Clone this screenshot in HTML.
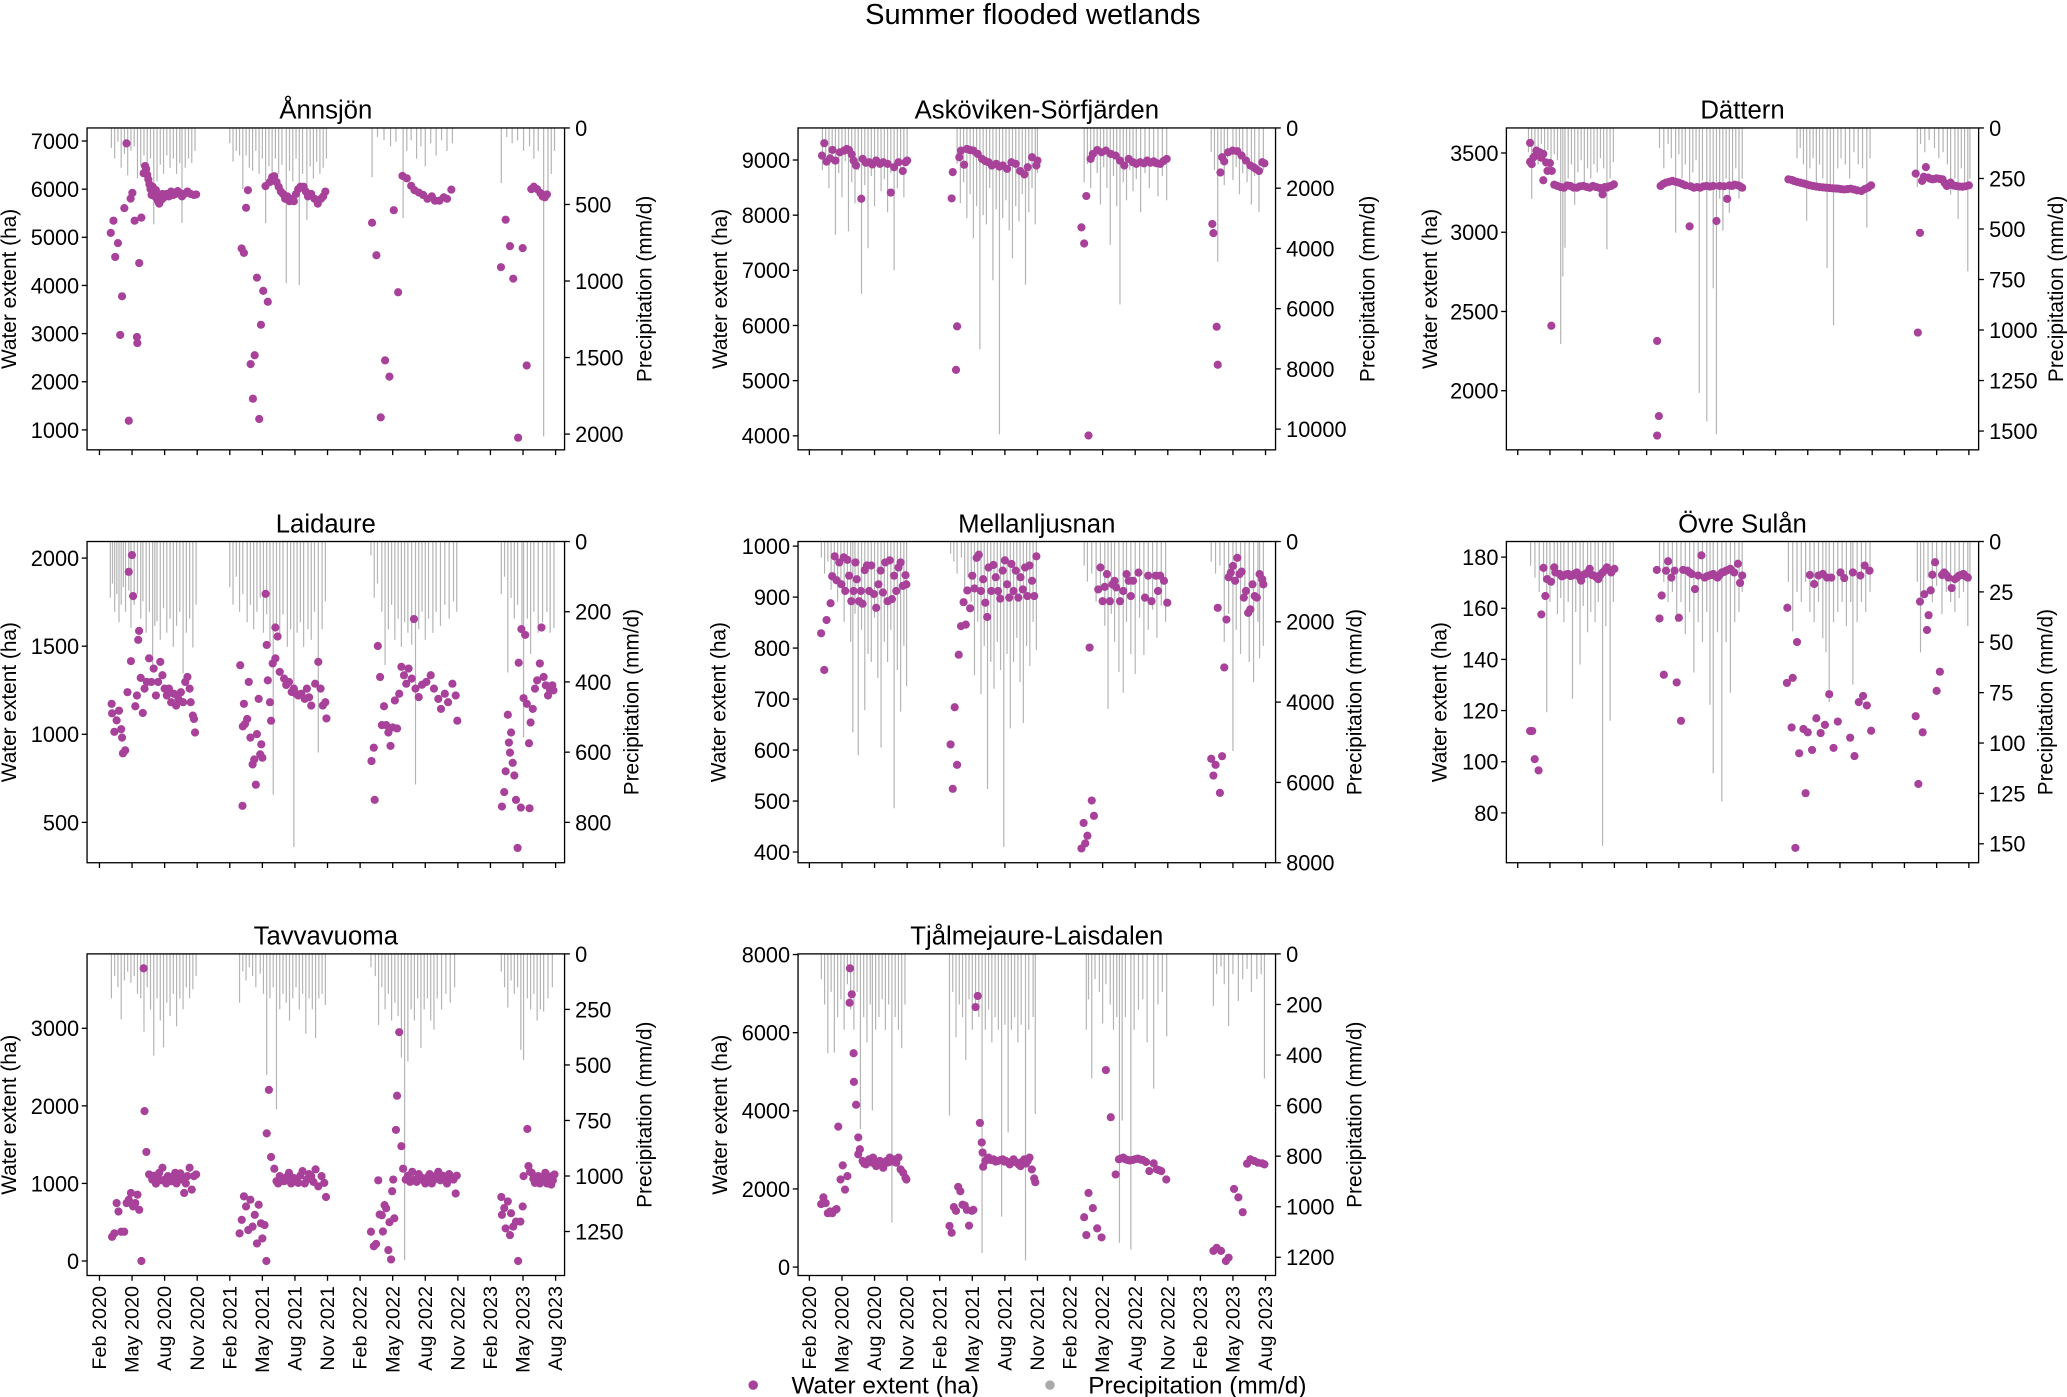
<!DOCTYPE html>
<html><head><meta charset="utf-8"><title>Summer flooded wetlands</title>
<style>
html,body{margin:0;padding:0;background:#fff;}
svg{display:block;font-family:"Liberation Sans","DejaVu Sans",sans-serif;}
</style></head>
<body>
<svg id="fig" width="2067" height="1397" viewBox="0 0 1567 1059" preserveAspectRatio="none" xmlns="http://www.w3.org/2000/svg">
<rect width="1567" height="1059" fill="#fff"/>
<text x="783" y="18" font-size="22" text-anchor="middle" fill="#000">Summer flooded wetlands</text>
<g id="panels"></g>
<g>
<circle cx="571" cy="1050" r="3.6" fill="#a8419a"/>
<text x="600" y="1056.5" font-size="18.5">Water extent (ha)</text>
<circle cx="796" cy="1050" r="3.6" fill="#aaaaaa"/>
<text x="825" y="1056.5" font-size="18.5">Precipitation (mm/d)</text>
</g>
</svg>
<script>
// ---- x-axis ticks (month index: 0 = Jan 2020) ----
const tickMonths = [1,4,7,10,13,16,19,22,25,28,31,34,37,40,43];
const tickLabels = ["Feb 2020","May 2020","Aug 2020","Nov 2020","Feb 2021","May 2021","Aug 2021","Nov 2021","Feb 2022","May 2022","Aug 2022","Nov 2022","Feb 2023","May 2023","Aug 2023"];

const panelNames = ["Ånnsjön","Asköviken-Sörfjärden","Dättern","Laidaure","Mellanljusnan","Övre Sulån","Tavvavuoma","Tjålmejaure-Laisdalen"];

const leftTicks = [[1000,2000,3000,4000,5000,6000,7000],[4000,5000,6000,7000,8000,9000],[2000,2500,3000,3500],[500,1000,1500,2000],[400,500,600,700,800,900,1000],[80,100,120,140,160,180],[0,1000,2000,3000],[0,2000,4000,6000,8000]];
const rightTicks = [[0,500,1000,1500,2000],[0,2000,4000,6000,8000,10000],[0,250,500,750,1000,1250,1500],[0,200,400,600,800],[0,2000,4000,6000,8000],[0,25,50,75,100,125,150],[0,250,500,750,1000,1250],[0,200,400,600,800,1000,1200]];

// ---- water extent series [month, ha] ----
const annsjonExtent = [[2.04,5092],[2.29,5345],[2.45,4592],[2.7,4880],[2.91,2972],[3.08,3775],[3.29,5606],[3.49,6951],[3.7,1190],[3.87,5803],[4.03,5923],[4.24,5345],[4.45,2930],[4.49,2803],[4.66,4465],[4.86,5409],[5.07,6331],[5.2,6480],[5.3,6420],[5.4,6300],[5.5,6200],[5.6,6100],[5.7,6000],[5.8,5880],[5.9,6050],[6.0,5950],[6.1,5850],[6.2,5980],[6.3,5800],[6.4,5750],[6.5,5700],[6.6,5850],[6.7,5780],[6.8,5900],[6.9,5820],[7.0,5870],[7.2,5900],[7.4,5850],[7.6,5950],[7.8,5880],[8.0,5900],[8.2,5960],[8.4,5920],[8.6,5850],[8.8,5900],[9.1,5950],[9.4,5900],[9.7,5880],[9.9,5890],
[14.09,4768],[14.3,4676],[14.5,5613],[14.67,5979],[14.92,2366],[15.13,1648],[15.29,2550],[15.5,4162],[15.71,1226],[15.87,3183],[16.08,3887],[16.29,6063],[16.5,3662],[16.7,6150],[16.9,6250],[17.1,6270],[17.3,6150],[17.5,6050],[17.7,5950],[17.9,5900],[18.1,5800],[18.3,5850],[18.5,5750],[18.7,5800],[18.9,5750],[19.1,5900],[19.3,6000],[19.5,6050],[19.8,6050],[20.0,5950],[20.2,5850],[20.5,5900],[20.8,5800],[21.1,5700],[21.4,5800],[21.6,5850],[21.8,5950],
[26.1,5303],[26.5,4627],[26.9,1261],[27.3,2444],[27.7,2106],[28.1,5563],[28.5,3859],[28.9,6275],[29.3,6225],[29.7,6070],[30.0,5980],[30.4,5930],[30.8,5880],[31.2,5800],[31.6,5850],[31.9,5760],[32.3,5760],[32.7,5830],[33.0,5800],[33.4,5990],
[37.97,4380],[38.4,5366],[38.8,4817],[39.1,4141],[39.55,838],[39.97,4775],[40.34,2338],[40.76,6000],[41.0,6050],[41.3,6000],[41.6,5920],[41.8,5850],[42.0,5830],[42.2,5890]];

const askovikenExtent = [[2.16,9079],[2.37,9305],[2.58,8970],[2.9,9030],[3.12,9183],[3.4,8990],[3.8,9140],[4.2,9170],[4.45,9200],[4.65,9180],[4.9,9100],[5.07,8990],[5.3,8900],[5.78,8298],[5.9,9020],[6.2,8950],[6.5,8960],[6.8,8920],[7.15,8990],[7.5,8930],[7.8,8960],[8.2,8930],[8.5,8410],[8.8,8870],[9.2,8960],[9.6,8800],[9.85,8960],[10.0,8990],
[14.1,8304],[14.2,8780],[14.5,5196],[14.6,5984],[14.8,9050],[14.96,9170],[15.25,8915],[15.5,9200],[15.8,9180],[16.1,9170],[16.5,9110],[16.9,9020],[17.2,8980],[17.5,8960],[17.8,8900],[18.2,8930],[18.5,8880],[18.8,8900],[19.2,8840],[19.6,8960],[20.0,8930],[20.4,8800],[20.8,8740],[21.1,8870],[21.5,9050],[21.9,8900],[22.0,8990],
[26.05,7779],[26.3,7486],[26.5,8347],[26.7,4006],[26.9,9020],[27.1,9110],[27.5,9180],[27.9,9140],[28.3,9170],[28.75,9110],[29.2,9080],[29.6,8990],[30.0,8900],[30.4,9020],[30.8,8960],[31.1,8930],[31.45,8960],[31.8,8940],[32.1,8990],[32.4,8950],[32.7,8975],[33.0,8940],[33.3,8930],[33.6,8980],[33.9,9020],
[38.1,7840],[38.2,7675],[38.5,5978],[38.6,5288],[38.85,8774],[39.0,9050],[39.2,8975],[39.55,9140],[39.97,9170],[40.4,9160],[40.8,9080],[41.2,8990],[41.6,8900],[41.9,8870],[42.1,8840],[42.4,8800],[42.7,8960],[42.9,8940]];

const dattternExtent = [[2.15,3564],[2.15,3445],[2.3,3430],[2.46,3472],[2.6,3480],[2.74,3515],[2.9,3490],[3.06,3504],[3.2,3470],[3.38,3494],[3.38,3328],[3.65,3440],[3.77,3387],[4.0,3436],[4.13,2410],[4.17,3387],[4.4,3300],[4.7,3292],[5.0,3285],[5.3,3281],[5.6,3295],[5.9,3292],[6.2,3282],[6.5,3281],[6.8,3290],[7.1,3292],[7.4,3286],[7.7,3281],[8.0,3292],[8.3,3285],[8.6,3280],[8.9,3239],[9.1,3285],[9.3,3281],[9.5,3290],[9.7,3292],[9.95,3302],
[13.98,2314],[14.14,1840],[13.98,1717],[14.3,3292],[14.55,3305],[14.8,3313],[15.1,3318],[15.4,3324],[15.7,3318],[16.0,3313],[16.3,3305],[16.6,3296],[17.0,3037],[17.1,3290],[17.4,3281],[17.7,3285],[17.98,3281],[18.3,3290],[18.6,3292],[18.9,3288],[19.2,3292],[19.5,3071],[19.8,3292],[20.2,3290],[20.5,3211],[20.7,3295],[20.95,3292],[21.2,3300],[21.5,3296],[21.7,3290],[21.9,3281],
[26.2,3334],[26.5,3330],[26.7,3324],[27.0,3318],[27.3,3313],[27.6,3308],[27.9,3302],[28.2,3296],[28.5,3292],[28.8,3288],[29.1,3285],[29.4,3283],[29.7,3281],[30.0,3279],[30.3,3277],[30.6,3276],[30.85,3275],[31.1,3272],[31.4,3270],[31.7,3272],[32.0,3275],[32.3,3270],[32.6,3264],[33.0,3260],[33.3,3272],[33.6,3281],[33.9,3296],
[38.05,3370],[38.25,2367],[38.45,2996],[38.65,3324],[38.8,3350],[39.0,3411],[39.2,3345],[39.4,3338],[39.6,3334],[39.8,3336],[40.0,3340],[40.3,3336],[40.55,3334],[40.75,3310],[40.95,3292],[41.1,3300],[41.3,3313],[41.55,3295],[41.8,3292],[42.1,3289],[42.4,3287],[42.7,3290],[43.0,3296]];

const laidaureExtent = [[2.12,1173],[2.16,1119],[2.37,1014],[2.58,1079],[2.8,1134],[3.0,1029],[3.08,981],[3.16,892],[3.37,909],[3.58,1239],[3.7,1922],[3.9,1415],[3.99,2017],[4.1,1784],[4.3,1159],[4.45,1220],[4.57,1536],[4.65,1587],[4.8,1320],[4.99,1121],[5.15,1259],[5.36,1297],[5.57,1431],[5.78,1297],[5.99,1373],[6.2,1220],[6.4,1297],[6.6,1411],[6.8,1335],[7.0,1259],[7.2,1220],[7.4,1259],[7.6,1182],[7.85,1230],[8.06,1163],[8.27,1201],[8.5,1239],[8.7,1182],[8.9,1297],[9.1,1325],[9.3,1259],[9.4,1182],[9.6,1106],[9.7,1087],[9.8,1010],
[13.96,1392],[14.17,594],[14.2,1045],[14.3,1173],[14.4,1058],[14.6,1087],[14.75,1297],[14.9,981],[15.1,829],[15.25,857],[15.4,714],[15.5,1001],[15.66,1201],[15.8,886],[15.9,943],[16.0,867],[16.3,1797],[16.4,1507],[16.5,1306],[16.7,1182],[16.8,1077],[16.95,1402],[17.2,1606],[17.2,1431],[17.4,1555],[17.6,1354],[18.0,1316],[18.2,1280],[18.45,1297],[18.7,1240],[18.9,1259],[19.1,1230],[19.3,1220],[19.6,1230],[19.9,1201],[20.1,1259],[20.3,1210],[20.5,1163],[20.86,1287],[21.15,1411],[21.36,1259],[21.56,1163],[21.8,1182],[21.9,1090],
[26.05,848],[26.26,924],[26.34,628],[26.63,1501],[26.84,1325],[27.0,1052],[27.2,1159],[27.4,1052],[27.6,1010],[27.8,934],[28.0,1039],[28.2,1192],[28.4,1033],[28.6,1230],[28.8,1383],[29.04,1335],[29.25,1287],[29.46,1373],[29.75,1316],[29.96,1654],[30.1,1259],[30.4,1211],[30.7,1281],[31.1,1297],[31.5,1335],[31.8,1259],[32.2,1201],[32.45,1144],[32.8,1230],[33.1,1182],[33.5,1287],[33.8,1220],[33.95,1077],
[38.06,590],[38.27,672],[38.4,790],[38.6,1111],[38.7,953],[38.8,896],[38.9,1010],[39.05,838],[39.2,766],[39.35,628],[39.5,355],[39.6,1406],[39.8,584],[39.85,1597],[40.05,1205],[40.2,1564],[40.35,1173],[40.55,949],[40.6,580],[40.7,1067],[40.9,1144],[41.1,1259],[41.3,1306],[41.55,1402],[41.7,1606],[41.9,1325],[42.1,1278],[42.3,1220],[42.5,1249],[42.7,1278],[42.8,1249]];

const mellanExtent = [[2.08,829],[2.37,757],[2.58,855],[2.95,888],[3.1,941],[3.33,980],[3.5,933],[3.75,968],[3.95,925],[4.16,978],[4.3,912],[4.5,973],[4.66,942],[4.86,892],[5.07,912],[5.24,968],[5.36,935],[5.57,892],[5.74,912],[5.9,887],[6.1,953],[6.3,962],[6.5,912],[6.7,962],[6.94,906],[7.15,879],[7.36,925],[7.56,952],[7.77,909],[7.98,968],[8.2,892],[8.4,972],[8.6,896],[8.8,942],[9.0,912],[9.2,958],[9.4,968],[9.6,922],[9.85,943],[9.93,925],
[14.0,611],[14.2,524],[14.38,684],[14.6,571],[14.75,787],[14.96,843],[15.2,890],[15.4,846],[15.54,913],[15.8,878],[16.0,942],[16.2,917],[16.4,977],[16.6,983],[16.8,912],[17.0,935],[17.2,889],[17.37,861],[17.5,958],[17.75,912],[17.95,963],[18.16,939],[18.37,912],[18.57,897],[18.8,952],[19.0,972],[19.2,925],[19.4,899],[19.6,965],[19.8,912],[20.0,952],[20.24,899],[20.44,939],[20.65,915],[20.86,958],[21.07,902],[21.27,962],[21.5,932],[21.7,902],[21.9,980],
[26.05,407],[26.25,457],[26.4,417],[26.6,432],[26.8,801],[27.0,501],[27.2,471],[27.6,915],[27.8,958],[28.0,892],[28.2,920],[28.4,945],[28.67,892],[28.9,925],[29.1,932],[29.25,919],[29.6,892],[29.9,912],[30.2,945],[30.4,932],[30.6,902],[30.8,932],[31.3,948],[31.9,899],[32.2,942],[32.5,892],[32.9,942],[33.1,912],[33.3,942],[33.65,932],[33.95,889],
[38.0,583],[38.2,550],[38.4,571],[38.6,879],[38.8,516],[39.0,588],[39.2,762],[39.4,856],[39.6,939],[39.8,948],[40.0,961],[40.2,932],[40.4,977],[40.6,945],[40.8,950],[41.0,899],[41.2,912],[41.4,869],[41.6,876],[41.8,925],[42.0,902],[42.2,899],[42.45,945],[42.7,935],[42.8,925]];

const ovreExtent = [[2.15,112],[2.35,112],[2.58,101],[2.94,96.6],[3.2,157.6],[3.4,175.8],[3.57,164.8],[3.73,171.4],[4.1,170.4],[4.4,176],[4.5,174],[4.9,173.4],[5.1,172.5],[5.3,172.8],[5.5,173.2],[5.7,173.4],[5.9,172.6],[6.1,172.8],[6.3,173.5],[6.5,174],[6.7,172.5],[6.9,170.8],[7.1,173],[7.3,173.4],[7.5,174],[7.7,175.4],[7.9,173],[8.1,172.8],[8.3,172.2],[8.5,171.4],[8.7,173],[8.9,174],[9.1,174.8],[9.3,176],[9.5,175],[9.7,174],[10.0,175.4],
[13.95,175],[14.2,156],[14.4,165],[14.6,134],[14.8,174.7],[15.0,178.4],[15.3,172],[15.6,174.7],[15.8,131],[16.0,156.3],[16.2,116],[16.4,175],[16.8,174.7],[17.0,174],[17.2,173.4],[17.5,167.5],[17.8,172.8],[18.1,180.7],[18.4,172],[18.6,172.5],[18.8,172.8],[19.0,173],[19.2,173.4],[19.4,172.6],[19.6,172],[19.8,173],[20.0,174],[20.2,174.2],[20.4,174.7],[20.6,175],[20.8,175.4],[21.15,174],[21.5,177.4],[21.7,169.9],[21.9,172.8],
[26.06,130.8],[26.1,160.2],[26.5,113.4],[26.6,132.8],[26.85,66.3],[27.0,146.8],[27.2,103.3],[27.6,112.8],[27.8,87.7],[28.0,111.5],[28.2,173],[28.4,104.6],[28.6,169.5],[28.8,117],[29.0,172.8],[29.2,111.2],[29.4,173.4],[29.6,114.4],[29.8,172],[30.0,126.4],[30.2,172],[30.4,105.4],[30.8,115.7],[31.05,174],[31.4,171.8],[31.95,109.4],[32.2,174],[32.35,102.2],[32.75,123.3],[32.9,172.8],[33.15,125.7],[33.3,176.7],[33.5,122],[33.75,174.7],[33.9,112.1],
[38.05,117.8],[38.3,91.3],[38.45,162.6],[38.7,111.5],[38.85,165.5],[39.1,151.5],[39.25,157.3],[39.45,167],[39.6,173.1],[39.85,178],[40.0,127.7],[40.3,135.2],[40.5,173],[40.7,174],[40.9,173],[41.1,172],[41.4,167.9],[41.7,171.4],[41.9,172],[42.1,172.8],[42.3,173],[42.5,173.4],[42.7,172.5],[42.9,172]];

const tavvaExtent = [[2.16,312],[2.37,356],[2.58,747],[2.75,638],[3.0,377],[3.28,377],[3.5,747],[3.7,790],[3.9,877],[4.1,703],[4.3,747],[4.5,855],[4.66,660],[4.86,0],[5.07,3773],[5.15,1932],[5.32,1406],[5.57,1116],[5.86,1050],[6.0,1100],[6.2,998],[6.35,1080],[6.5,1137],[6.65,1040],[6.8,1202],[7.0,1050],[7.15,1000],[7.3,1094],[7.5,1060],[7.65,1029],[7.8,1090],[7.98,1137],[8.1,1000],[8.27,1094],[8.45,1130],[8.6,1050],[8.8,877],[8.95,1000],[9.1,1094],[9.3,1202],[9.5,920],[9.7,1094],[9.9,1116],
[13.9,356],[14.1,530],[14.3,833],[14.5,703],[14.7,399],[14.9,790],[15.1,443],[15.3,595],[15.5,226],[15.66,725],[15.87,486],[16.0,291],[16.2,464],[16.37,0],[16.4,1645],[16.6,2206],[16.8,1341],[17.1,1189],[17.3,1029],[17.45,1000],[17.6,1094],[17.8,1050],[18.0,1029],[18.2,1080],[18.45,1137],[18.65,1000],[18.86,1072],[19.1,1040],[19.3,1007],[19.5,1100],[19.7,1159],[19.9,1000],[20.1,1050],[20.3,1120],[20.5,1094],[20.7,1020],[20.9,1181],[21.15,963],[21.45,1094],[21.7,1007],[21.86,825],
[26.0,377],[26.26,190],[26.47,220],[26.67,1040],[26.8,600],[27.0,590],[27.1,380],[27.25,720],[27.4,680],[27.6,140],[27.7,500],[27.85,20],[27.95,900],[28.05,1050],[28.15,550],[28.3,1690],[28.4,2130],[28.6,2950],[28.8,1480],[28.96,1190],[29.2,1050],[29.4,1100],[29.6,1020],[29.8,1150],[30.0,1050],[30.2,1020],[30.4,1120],[30.6,1080],[30.8,1040],[31.0,1000],[31.2,1080],[31.4,1120],[31.6,1000],[31.8,1050],[32.0,1100],[32.2,1150],[32.4,1040],[32.6,1100],[32.8,1060],[33.0,1000],[33.2,1120],[33.4,1080],[33.6,1050],[33.8,870],[33.9,1100],
[38.0,825],[38.06,595],[38.27,682],[38.4,420],[38.6,768],[38.8,334],[38.9,616],[39.1,443],[39.35,508],[39.55,0],[39.76,508],[39.97,703],[40.05,1094],[40.4,1702],[40.5,1224],[40.65,1150],[40.8,1137],[40.95,1060],[41.1,1007],[41.25,1080],[41.4,1094],[41.55,1000],[41.7,1029],[41.9,1080],[42.05,1137],[42.2,1000],[42.34,1050],[42.5,1090],[42.6,985],[42.75,1040],[42.9,1116]];

const tjalmeExtent = [[2.08,1612],[2.29,1784],[2.5,1638],[2.7,1379],[2.9,1422],[3.1,1379],[3.4,1465],[3.5,1483],[3.66,3595],[3.87,2241],[4.07,2603],[4.28,1983],[4.5,2328],[4.7,6767],[4.74,7647],[4.9,6983],[5.07,5474],[5.1,4741],[5.3,4155],[5.5,3319],[5.5,2888],[5.65,3017],[5.9,2716],[6.05,2650],[6.2,2629],[6.35,2700],[6.5,2759],[6.7,2680],[6.86,2802],[7.0,2650],[7.15,2586],[7.3,2700],[7.5,2716],[7.65,2620],[7.8,2543],[7.95,2650],[8.1,2716],[8.25,2680],[8.4,2802],[8.55,2700],[8.7,2759],[8.85,2720],[9.0,2672],[9.2,2802],[9.4,2500],[9.64,2414],[9.85,2284],[9.93,2241],
[13.9,1052],[14.1,879],[14.3,1534],[14.5,1440],[14.7,2052],[14.9,1940],[15.1,1595],[15.3,1578],[15.5,1465],[15.7,1060],[15.96,1440],[16.1,1465],[16.3,6655],[16.5,6940],[16.7,3690],[16.87,3190],[16.95,2931],[17.0,2569],[17.2,2716],[17.35,2760],[17.5,2802],[17.7,2740],[17.95,2759],[18.15,2700],[18.37,2716],[18.6,2740],[18.8,2759],[18.95,2700],[19.1,2716],[19.3,2680],[19.45,2629],[19.6,2700],[19.8,2759],[19.95,2690],[20.1,2672],[20.3,2620],[20.44,2586],[20.6,2700],[20.8,2759],[20.95,2650],[21.1,2716],[21.27,2802],[21.48,2500],[21.7,2267],[21.8,2172],
[26.3,1276],[26.5,819],[26.7,1897],[27.1,1509],[27.5,991],[27.9,759],[28.3,5043],[28.75,3836],[29.2,2371],[29.5,2759],[29.7,2780],[29.9,2802],[30.1,2760],[30.3,2741],[30.5,2730],[30.75,2741],[31.0,2760],[31.25,2776],[31.5,2750],[31.7,2741],[32.0,2690],[32.3,2457],[32.7,2655],[33.0,2500],[33.2,2480],[33.4,2457],[33.86,2241],
[38.2,414],[38.5,491],[38.9,414],[39.35,155],[39.6,241],[40.1,2000],[40.5,1784],[40.9,1405],[41.3,2646],[41.6,2759],[41.96,2716],[42.3,2672],[42.7,2655],[42.9,2629]];

// ---- precipitation series [month, mm/d] ----
const annsjonPrecip = [[2.1,130],[2.4,200],[2.7,90],[3.0,260],[3.3,170],[3.6,310],[3.9,150],[4.2,120],[4.5,330],[4.8,250],[5.1,180],[5.4,280],[5.7,200],[6.0,630],[6.3,350],[6.6,240],[6.9,300],[7.2,180],[7.5,260],[7.8,200],[8.1,300],[8.4,230],[8.6,620],[8.9,260],[9.2,200],[9.5,230],[9.8,150],
[13.0,100],[13.3,220],[13.6,150],[13.9,180],[14.2,400],[14.5,180],[14.8,260],[15.1,280],[15.4,150],[15.7,300],[16.0,200],[16.3,622],[16.6,250],[16.9,330],[17.2,200],[17.5,300],[17.8,240],[18.2,1015],[18.5,280],[18.8,350],[19.1,200],[19.4,1026],[19.7,300],[20.1,600],[20.4,250],[20.7,330],[21.0,220],[21.3,300],[21.6,260],[21.9,200],
[26.1,322],[26.6,60],[27.2,80],[27.8,120],[28.3,90],[28.96,589],[29.3,150],[29.7,80],[30.2,200],[30.6,120],[31.0,250],[31.5,100],[32.0,180],[32.5,80],[33.0,150],[33.5,100],
[38.0,360],[38.5,60],[39.0,100],[39.5,80],[40.05,150],[40.6,120],[41.0,200],[41.4,150],[41.9,2015],[42.3,420],[42.6,300],[42.9,150]];
const askovikenPrecip = [[2.2,1400],[2.5,900],[2.8,2000],[3.1,1200],[3.4,3547],[3.7,1500],[4.0,2300],[4.3,1100],[4.6,3435],[4.9,1800],[5.2,2500],[5.5,1400],[5.8,5505],[6.1,1900],[6.4,3995],[6.7,1600],[7.0,2600],[7.3,1300],[7.6,2100],[7.9,1700],[8.2,2800],[8.5,1500],[8.8,4722],[9.1,2000],[9.4,1400],[9.7,2300],[10.0,1200],
[14.6,1200],[14.9,2500],[15.2,1800],[15.5,3000],[15.8,2200],[16.1,3660],[16.4,2600],[16.7,7352],[17.0,2900],[17.3,3200],[17.6,2000],[17.9,5058],[18.2,2700],[18.5,10172],[18.8,3000],[19.1,2400],[19.4,3400],[19.7,4330],[20.0,2600],[20.3,3100],[20.6,2200],[20.9,5203],[21.2,2800],[21.5,2000],[21.8,3200],[22.0,1500],
[26.3,1800],[26.6,1200],[26.9,2000],[27.2,900],[27.5,1500],[27.8,2540],[28.1,1300],[28.4,2000],[28.7,3883],[29.0,1600],[29.3,2600],[29.6,5864],[29.9,1800],[30.2,2400],[30.5,1400],[30.8,2100],[31.1,1700],[31.5,2800],[31.9,1500],[32.3,2000],[32.7,1300],[33.1,2270],[33.5,1600],[33.9,2400],
[38.0,800],[38.3,1400],[38.6,4442],[38.9,1200],[39.2,1900],[39.5,1000],[40.0,1734],[40.3,1300],[40.6,2200],[40.9,1500],[41.3,1800],[41.7,2540],[42.0,1600],[42.4,2786],[42.8,1400]];
const dattternPrecip = [[2.0,120],[2.3,351],[2.6,100],[2.9,180],[3.2,80],[3.5,150],[3.8,110],[4.1,200],[4.4,130],[4.7,160],[5.0,1069],[5.2,735],[5.4,593],[5.7,250],[6.0,180],[6.3,380],[6.6,220],[6.9,160],[7.2,300],[7.5,200],[7.8,250],[8.1,180],[8.4,220],[8.7,150],[9.0,200],[9.3,601],[9.6,250],[9.9,170],
[14.2,100],[14.6,200],[15.0,80],[15.3,150],[15.7,518],[16.0,130],[16.3,250],[16.6,180],[17.0,300],[17.3,220],[17.6,160],[17.9,1311],[18.2,260],[18.6,1453],[18.9,300],[19.2,793],[19.5,1515],[19.8,350],[20.1,509],[20.4,250],[20.7,420],[21.0,300],[21.3,200],[21.6,350],[21.9,250],
[27.0,150],[27.3,100],[27.6,180],[27.9,459],[28.2,200],[28.5,150],[28.8,300],[29.1,180],[29.4,250],[29.8,693],[30.1,300],[30.4,977],[30.8,200],[31.1,150],[31.5,180],[31.9,250],[32.3,120],[32.7,180],[33.1,200],[33.5,493],[33.8,150],
[38.2,292],[38.5,80],[38.9,120],[39.3,60],[39.8,100],[40.2,150],[40.6,120],[41.0,180],[41.3,330],[41.7,250],[42.0,451],[42.3,200],[42.6,300],[42.9,710],[43.1,250]];
const laidaurePrecip = [[2.0,160],[2.2,120],[2.4,200],[2.6,150],[2.8,230],[3.0,180],[3.2,130],[3.4,200],[3.7,140],[3.9,246],[4.2,180],[4.5,150],[4.8,220],[5.0,170],[5.3,260],[5.6,200],[5.9,366],[6.1,240],[6.3,227],[6.6,280],[6.9,190],[7.2,260],[7.5,220],[7.8,300],[8.1,240],[8.4,200],[8.7,376],[9.0,260],[9.3,220],[9.6,302],[9.9,180],
[13.0,130],[13.3,180],[13.6,100],[13.9,200],[14.2,150],[14.6,230],[14.9,180],[15.2,250],[15.5,200],[15.8,160],[16.1,260],[16.4,208],[16.7,300],[17.0,721],[17.3,240],[17.6,280],[17.9,208],[18.3,300],[18.6,250],[18.9,870],[19.2,260],[19.5,230],[19.8,300],[20.2,250],[20.5,280],[20.8,200],[21.15,601],[21.5,250],[21.8,170],
[26.0,40],[26.3,160],[26.6,120],[27.0,200],[27.3,352],[27.6,250],[27.9,180],[28.2,280],[28.5,220],[28.8,300],[29.1,230],[29.4,260],[29.75,294],[30.1,692],[30.4,250],[30.7,200],[31.0,280],[31.3,220],[31.7,260],[32.0,200],[32.4,240],[32.8,180],[33.2,220],[33.6,170],[33.9,200],
[38.0,150],[38.3,100],[38.6,373],[38.9,160],[39.2,220],[39.5,180],[39.9,250],[40.05,558],[40.4,220],[40.7,320],[41.0,200],[41.4,260],[41.8,230],[42.2,200],[42.5,260],[42.85,246]];
const mellanPrecip = [[2.1,400],[2.4,800],[2.7,500],[3.0,1200],[3.3,900],[3.6,1500],[3.9,1100],[4.2,2000],[4.5,1300],[4.8,2500],[5.0,4755],[5.2,1800],[5.5,5325],[5.8,2200],[6.1,4200],[6.4,2800],[6.7,3000],[7.0,1900],[7.3,3400],[7.6,5132],[7.9,2500],[8.2,3000],[8.5,2200],[8.8,6642],[9.1,3200],[9.4,4235],[9.7,2600],[9.95,3600],
[14.0,300],[14.3,500],[14.6,800],[15.0,400],[15.3,1200],[15.6,900],[15.9,1500],[16.2,3329],[16.5,2000],[16.8,3800],[17.1,2600],[17.4,6164],[17.7,3000],[18.0,3665],[18.3,2500],[18.6,3200],[18.9,7606],[19.2,2800],[19.5,4654],[19.8,3000],[20.1,2400],[20.4,3500],[20.7,4520],[21.0,2600],[21.3,3100],[21.6,2000],[21.9,2700],
[26.3,600],[26.6,1000],[27.0,800],[27.4,1500],[27.8,1200],[28.2,2100],[28.5,4168],[28.8,1800],[29.1,2500],[29.5,3245],[29.9,3765],[30.2,2000],[30.6,2800],[31.0,3300],[31.4,1900],[31.8,2826],[32.2,2200],[32.6,1700],[33.0,2400],[33.4,1600],[33.8,2000],
[38.0,500],[38.4,800],[38.8,600],[39.2,2500],[39.6,1800],[40.0,5216],[40.3,2200],[40.7,2800],[41.1,1500],[41.5,3000],[41.9,3500],[42.3,2000],[42.45,2910],[42.8,2600]];
const ovrePrecip = [[2.2,12],[2.6,18],[3.0,25],[3.4,20],[3.7,84.7],[4.0,30],[4.4,20],[4.7,36],[5.0,28],[5.3,40],[5.7,30],[6.1,78],[6.4,35],[6.8,61],[7.1,32],[7.5,45],[7.8,35],[8.2,40],[8.5,30],[8.9,151],[9.2,42],[9.6,88.9],[9.9,30],
[14.2,15],[14.6,20],[15.0,30],[15.4,25],[15.8,40],[16.2,30],[16.6,46],[17.0,35],[17.4,65],[17.8,40],[18.2,50],[18.6,35],[18.9,81],[19.2,115],[19.6,45],[20.0,129],[20.4,50],[20.8,75],[21.2,40],[21.6,35],[21.9,25],
[26.2,20],[26.6,44.6],[27.0,25],[27.4,30],[27.8,20],[28.2,35],[28.6,40],[29.0,30],[29.4,48],[29.7,55],[30.0,79.7],[30.4,40],[30.8,35],[31.2,30],[31.6,42],[32.0,30],[32.2,71],[32.6,40],[33.0,30],[33.4,35],[33.8,25],
[38.2,20],[38.5,55],[38.8,25],[39.2,18],[39.6,30],[40.0,22],[40.5,36],[40.9,25],[41.3,30],[41.7,35],[42.1,28],[42.5,25],[42.9,42],[43.1,20]];
const tavvaPrecip = [[2.1,200],[2.4,100],[2.7,150],[3.0,295],[3.3,120],[3.6,80],[3.9,130],[4.2,100],[4.5,180],[4.8,200],[5.1,351],[5.4,150],[5.7,250],[6.0,458],[6.3,200],[6.6,300],[6.9,421],[7.2,220],[7.5,280],[7.8,180],[8.1,326],[8.4,200],[8.7,250],[9.0,150],[9.3,200],[9.6,160],[9.9,100],
[13.9,220],[14.2,80],[14.5,120],[14.8,60],[15.1,100],[15.4,150],[15.8,90],[16.1,180],[16.4,545],[16.7,200],[17.0,150],[17.3,700],[17.6,250],[17.9,180],[18.2,220],[18.5,300],[18.8,200],[19.1,150],[19.4,250],[19.7,180],[20.0,360],[20.3,200],[20.6,250],[20.9,379],[21.2,200],[21.5,180],[21.8,230],
[26.0,60],[26.4,100],[26.7,320],[27.0,150],[27.3,250],[27.6,180],[27.9,300],[28.2,220],[28.5,280],[28.8,467],[29.1,1379],[29.4,485],[29.7,250],[30.0,300],[30.3,200],[30.6,424],[30.9,250],[31.2,200],[31.5,300],[31.8,341],[32.1,200],[32.5,250],[32.9,180],[33.3,220],[33.7,150],
[38.0,80],[38.3,150],[38.6,242],[38.9,120],[39.2,180],[39.5,150],[39.8,432],[40.05,477],[40.4,200],[40.7,250],[41.0,180],[41.3,300],[41.6,250],[41.9,260],[42.3,200],[42.7,150]];
const tjalmePrecip = [[2.1,100],[2.4,200],[2.7,393],[3.0,150],[3.3,390],[3.6,250],[3.9,180],[4.2,300],[4.5,120],[4.8,220],[5.1,300],[5.4,150],[5.7,693],[6.0,250],[6.3,350],[6.6,200],[6.8,619],[7.1,300],[7.4,250],[7.7,180],[8.0,300],[8.3,200],[8.6,1063],[8.9,250],[9.2,300],[9.5,373],[9.8,200],
[13.9,639],[14.2,150],[14.5,330],[14.8,200],[15.1,250],[15.4,420],[15.7,180],[16.0,300],[16.3,200],[16.6,250],[16.9,1183],[17.2,300],[17.5,220],[17.8,350],[18.1,250],[18.4,300],[18.7,1039],[19.0,280],[19.3,706],[19.6,300],[19.9,250],[20.2,350],[20.5,280],[20.9,1212],[21.2,300],[21.6,250],[21.8,633],
[26.5,300],[26.7,180],[27.0,493],[27.3,100],[27.7,150],[28.0,275],[28.3,120],[28.7,200],[29.0,300],[29.3,250],[29.55,1143],[29.8,659],[30.1,250],[30.6,1169],[30.9,300],[31.3,220],[31.7,180],[32.1,350],[32.7,533],[33.1,200],[33.5,150],[33.9,326],
[38.2,205],[38.5,80],[38.9,50],[39.2,120],[39.6,286],[40.0,80],[40.5,186],[40.9,100],[41.3,60],[41.7,150],[42.2,100],[42.6,80],[42.9,493]];

const extentSeries = [annsjonExtent, askovikenExtent, dattternExtent, laidaureExtent, mellanExtent, ovreExtent, tavvaExtent, tjalmeExtent];
const precipSeries = [annsjonPrecip, askovikenPrecip, dattternPrecip, laidaurePrecip, mellanPrecip, ovrePrecip, tavvaPrecip, tjalmePrecip];

// ---- layout (positions and axis domains) ----
const cols = [[66,428],[605,967],[1142,1500]];
const colTickStart = [9.4,8.6,8.6];
const colTickSpan = [345.8,345.8,342];
const rows = [[97,341],[410.5,654],[723.1,966.9]];
const leftDomains = [[586,7271],[3746,9581],[1627,3658],[271,2094],[379,1009],[60.5,186.1],[-187,3959],[-216,8017]];
const rightMax = [2103,10688,1593,915,8000,159.4,1448,1272];
const leftLabelOffset = [59,59,57.5,59,60,50.5,59,59];
const rightLabelOffset = [61,70,59,51,60,51,61,60];

const NS = "http://www.w3.org/2000/svg";
function mk(tag, attrs, parent){ const e=document.createElementNS(NS,tag); for(const k in attrs) e.setAttribute(k,attrs[k]); parent.appendChild(e); return e; }
const root = document.getElementById('panels');
const slug = s => s.normalize('NFD').replace(/[\u0300-\u036f]/g,'').toLowerCase().replace(/[^a-z0-9]+/g,'-');

panelNames.forEach((name,i)=>{
  const ci = i%3;
  const col = cols[ci], row = rows[Math.floor(i/3)];
  const L=col[0], R=col[1], T=row[0], B=row[1];
  const xs = m => L + colTickStart[ci] + (m-1)*(colTickSpan[ci]/42);
  const [y0,y1] = leftDomains[i];
  const yl = v => B - (v-y0)/(y1-y0)*(B-T);
  const yr = v => T + v/rightMax[i]*(B-T);
  const g = mk('g',{},root);
  
  
  const cid = 'clip'+i;
  const cp = mk('clipPath',{id:cid},g); mk('rect',{x:L,y:T,width:R-L,height:B-T},cp);
  const bars = mk('g',{'clip-path':'url(#'+cid+')'},g);
  
  
  precipSeries[i].forEach(d=>{
    const l = mk('line',{x1:xs(d[0]),x2:xs(d[0]),y1:T,y2:yr(d[1]),stroke:'#b4b4b4','stroke-width':0.9},bars);
    
    
  });
  const pts = mk('g',{'clip-path':'url(#'+cid+')'},g);
  
  
  extentSeries[i].forEach(d=>{
    const c = mk('circle',{cx:xs(d[0]),cy:yl(d[1]),r:3.1,fill:'#a8419a'},pts);
    
    
  });
  const fr = mk('rect',{x:L,y:T,width:R-L,height:B-T,fill:'none',stroke:'#000','stroke-width':1},g);
  
  
  const t = mk('text',{x:(L+R)/2,y:T-7,'font-size':19.5,'text-anchor':'middle'},g);
  t.textContent = name;
  
  
  leftTicks[i].forEach(v=>{
    const y = yl(v);
    mk('line',{x1:L-4,x2:L,y1:y,y2:y,stroke:'#000','stroke-width':1},g);
    const tx = mk('text',{x:L-6,y:y+6,'font-size':16.5,'text-anchor':'end'},g);
    tx.textContent = v;
    
    
  });
  rightTicks[i].forEach(v=>{
    const y = yr(v);
    mk('line',{x1:R,x2:R+4,y1:y,y2:y,stroke:'#000','stroke-width':1},g);
    const tx = mk('text',{x:R+8,y:y+6,'font-size':16.5,'text-anchor':'start'},g);
    tx.textContent = v;
    
    
  });
  const cy = (T+B)/2;
  const lt = mk('text',{x:0,y:0,'font-size':15.8,'text-anchor':'middle',transform:`translate(${L-leftLabelOffset[i]+5},${cy}) rotate(-90)`},g);
  lt.textContent = 'Water extent (ha)';
  
  
  const rt = mk('text',{x:0,y:0,'font-size':15.8,'text-anchor':'middle',transform:`translate(${R+rightLabelOffset[i]+5},${cy}) rotate(-90)`},g);
  rt.textContent = 'Precipitation (mm/d)';
  
  
  const showLabels = (i>=6);
  tickMonths.forEach((m,k)=>{
    const x = xs(m);
    mk('line',{x1:x,x2:x,y1:B,y2:B+4,stroke:'#000','stroke-width':1},g);
    if(showLabels){
      const tx = mk('text',{x:0,y:0,'font-size':15,'text-anchor':'end',transform:`translate(${x+5},${B+8}) rotate(-90)`},g);
      tx.textContent = tickLabels[k];
      
      
    }
  });
});
</script>
</body></html>
